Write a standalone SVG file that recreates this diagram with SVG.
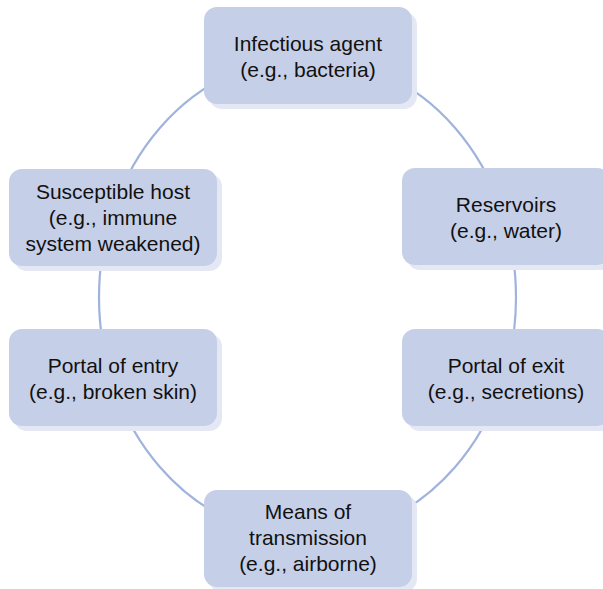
<svg xmlns="http://www.w3.org/2000/svg" width="603" height="589" viewBox="0 0 603 589">
  <style>
    .shadow { fill: #e4e8f4; }
    .box { fill: #c6cfe8; }
    .label { font-family: "Liberation Sans", Arial, sans-serif; font-size: 21px; fill: #111111; text-anchor: middle; }
    .cycle { fill: none; stroke: #9fb3dc; stroke-width: 2.2; }
  </style>
  <defs>
    <g id="card">
      <rect class="shadow" x="5" y="5" width="208" height="97" rx="13"/>
      <rect class="box" x="0" y="0" width="208" height="97" rx="13"/>
    </g>
  </defs>

  <!-- chain of infection ring -->
  <g id="connectors">
    <ellipse class="cycle" cx="307.5" cy="297.5" rx="208.5" ry="240"/>
  </g>

  <g id="infectious-agent">
    <use href="#card" x="204" y="7"/>
    <text class="label" x="308" y="51">Infectious agent</text>
    <text class="label" x="308" y="77">(e.g., bacteria)</text>
  </g>

  <g id="reservoirs">
    <use href="#card" x="402" y="168"/>
    <text class="label" x="506" y="212">Reservoirs</text>
    <text class="label" x="506" y="238">(e.g., water)</text>
  </g>

  <g id="portal-of-exit">
    <use href="#card" x="402" y="329"/>
    <text class="label" x="506" y="373">Portal of exit</text>
    <text class="label" x="506" y="399">(e.g., secretions)</text>
  </g>

  <g id="means-of-transmission">
    <use href="#card" x="204" y="490"/>
    <text class="label" x="308" y="519">Means of</text>
    <text class="label" x="308" y="545">transmission</text>
    <text class="label" x="308" y="571">(e.g., airborne)</text>
  </g>

  <g id="portal-of-entry">
    <use href="#card" x="9" y="329"/>
    <text class="label" x="113" y="373">Portal of entry</text>
    <text class="label" x="113" y="399">(e.g., broken skin)</text>
  </g>

  <g id="susceptible-host">
    <use href="#card" x="9" y="169"/>
    <text class="label" x="113" y="199">Susceptible host</text>
    <text class="label" x="113" y="225">(e.g., immune</text>
    <text class="label" x="113" y="251">system weakened)</text>
  </g>
</svg>
